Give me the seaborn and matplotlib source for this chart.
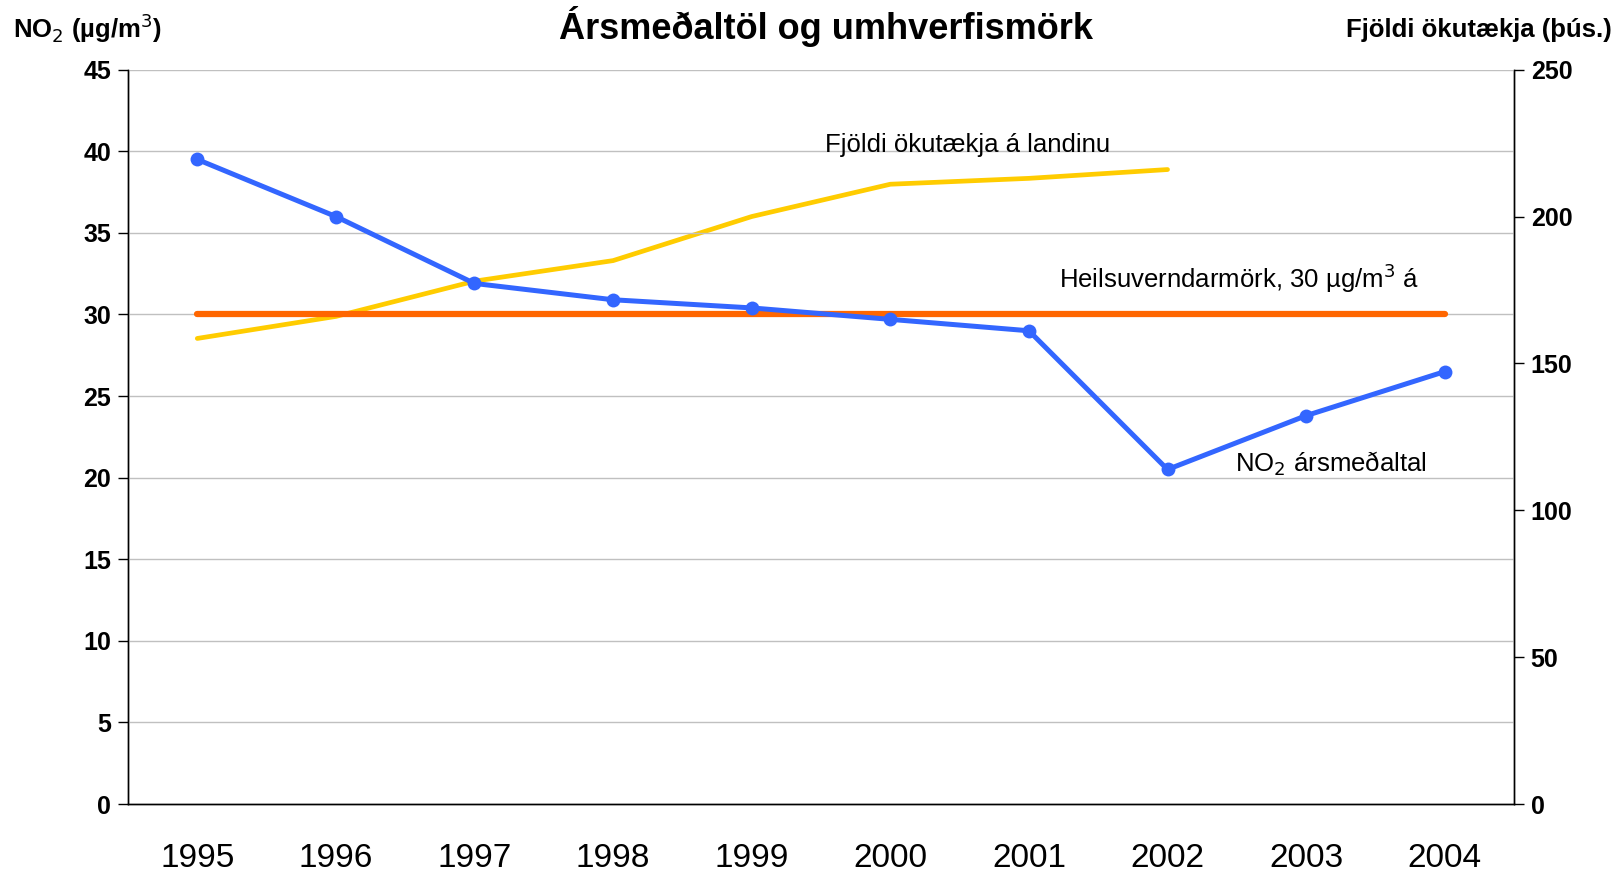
import matplotlib
matplotlib.use('Agg')
import matplotlib.pyplot as plt
import seaborn as sns
import numpy as np
import pandas as pd

# Data
years = [1995, 1996, 1997, 1998, 1999, 2000, 2001, 2002, 2003, 2004]
no2 = [39.5, 36.0, 31.9, 30.9, 30.4, 29.7, 29.0, 20.5, 23.8, 26.5]
vehicles = [158.5, 166, 178, 185, 200, 211, 213, 216, np.nan, np.nan]
limit = [30] * 10

df = pd.DataFrame({'year': years, 'no2': no2, 'vehicles': vehicles, 'limit': limit})

sns.set_theme(style='white')
plt.rcParams['font.family'] = ['Liberation Sans', 'DejaVu Sans']
plt.rcParams['text.color'] = 'black'
plt.rcParams['xtick.color'] = 'black'
plt.rcParams['ytick.color'] = 'black'

fig = plt.figure(figsize=(16.2, 8.73), dpi=100)
ax = fig.add_axes([0.079, 0.079, 0.8556, 0.8412])
ax2 = ax.twinx()

# Lines
sns.lineplot(ax=ax, data=df, x='year', y='limit', color='#FF6600', linewidth=4.5,
             solid_capstyle='round', zorder=3)
sns.lineplot(ax=ax2, data=df, x='year', y='vehicles', color='#FFCC00', linewidth=3.4)
sns.lineplot(ax=ax, data=df, x='year', y='no2', color='#3366FF', linewidth=3.6,
             marker='o', markersize=10, markeredgewidth=0, zorder=4)

# Put left axis above the twin so its lines show on top
ax.set_zorder(ax2.get_zorder() + 1)
ax.patch.set_visible(False)

# Axes ranges
ax.set_xlim(1994.5, 2004.5)
ax.set_ylim(0, 45)
ax2.set_ylim(0, 250)
ax.set_yticks(np.arange(0, 46, 5))
ax2.set_yticks(np.arange(0, 251, 50))

# Grid
for v in np.arange(5, 46, 5):
    ax.axhline(v, color='#C0C0C0', linewidth=1, zorder=0)

# X ticks: labels at centers, marks at boundaries
ax.set_xticks(years)
ax.set_xticklabels([str(y) for y in years], fontsize=24)
ax.tick_params(axis='x', which='major', length=0, pad=28)
ax.set_xticks(np.arange(1994.5, 2005, 1), minor=True)
ax.tick_params(axis='x', which='minor', length=10, width=1, color='black', direction='out')

ax.tick_params(axis='y', length=7, width=1, color='black', direction='out', labelsize=18, pad=5)
ax2.tick_params(axis='y', length=7, width=1, color='black', direction='out', labelsize=18, pad=5)
ax.tick_params(left=True)
ax2.tick_params(right=True)
for lab in ax.get_yticklabels() + ax2.get_yticklabels():
    lab.set_fontweight('bold')

ax.set_xlabel('')
ax.set_ylabel('')
ax2.set_ylabel('')

# Spines
for a in (ax, ax2):
    a.spines['top'].set_visible(False)
    for s in ('left', 'right', 'bottom'):
        a.spines[s].set_color('black')
        a.spines[s].set_linewidth(1)

# Annotations
ax.text(2000.56, 40.4, 'Fjöldi ökutækja á landinu', fontsize=18.5, ha='center', va='center')
ax.text(2001.22, 32.2, 'Heilsuverndarmörk, 30 µg/m$^3$ á', fontsize=18.5, ha='left', va='center')
ax.text(2002.49, 20.85, 'NO$_2$ ársmeðaltal', fontsize=18.5, ha='left', va='center')

# Titles
fig.text(0.51, 0.97, 'Ársmeðaltöl og umhverfismörk', fontsize=26, fontweight='bold',
         ha='center', va='center')
fig.text(0.008, 0.968, 'NO$_2$ (µg/m$^3$)', fontsize=18.5, fontweight='bold', ha='left', va='center')
fig.text(0.995, 0.966, 'Fjöldi ökutækja (þús.)', fontsize=18.5, fontweight='bold', ha='right', va='center')

fig.savefig('out.png', dpi=100)
